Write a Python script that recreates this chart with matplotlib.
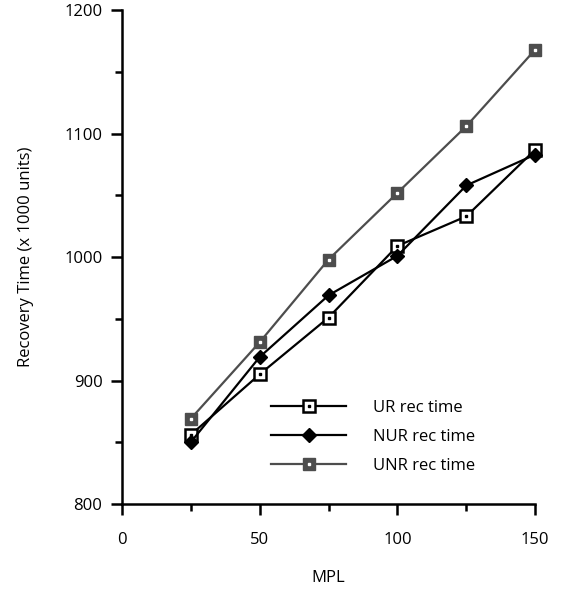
import matplotlib.pyplot as plt
from matplotlib.legend_handler import HandlerTuple

mpl = [25, 50, 75, 100, 125, 150]
ur_rec = [856, 905, 951, 1009, 1033, 1087]
nur_rec = [850, 919, 969, 1001, 1058, 1083]
unr_rec = [869, 931, 998, 1052, 1106, 1168]

plt.rcParams['font.family'] = ['Open Sans', 'DejaVu Sans']

fig = plt.figure(figsize=(5.64, 5.94), dpi=100)
ax = fig.add_axes([0.216, 0.1515, 0.733, 0.8315])

gray = '#4d4d4d'

# UR: open square with a small dot in the middle
l1, = ax.plot(mpl, ur_rec, color='black', lw=1.6, marker='s', ms=8,
              mfc='white', mec='black', mew=1.8, label='UR rec time', clip_on=False)
d1, = ax.plot(mpl, ur_rec, ls='none', marker='s', ms=1.8, mfc='black',
              mec='black', clip_on=False)

l2, = ax.plot(mpl, nur_rec, color='black', lw=1.6, marker='D', ms=7,
              mfc='black', mec='black', label='NUR rec time', clip_on=False)

l3, = ax.plot(mpl, unr_rec, color=gray, lw=1.6, marker='s', ms=8.5,
              mfc=gray, mec=gray, label='UNR rec time', clip_on=False)
d3, = ax.plot(mpl, unr_rec, ls='none', marker='s', ms=1.6, mfc='white',
              mec='white', clip_on=False)

ax.set_xlim(0, 150)
ax.set_ylim(800, 1200)
ax.set_xticks([0, 50, 100, 150])
ax.set_xticks([25, 75, 125], minor=True)
ax.set_yticks([800, 900, 1000, 1100, 1200])
ax.set_yticks([850, 950, 1050, 1150], minor=True)

for side in ['top', 'right']:
    ax.spines[side].set_visible(False)
for side in ['left', 'bottom']:
    ax.spines[side].set_linewidth(1.8)

ax.tick_params(which='major', direction='out', length=8, width=1.8,
               labelsize=12, pad=6)
ax.tick_params(which='minor', direction='out', length=5, width=1.8)
ax.tick_params(axis='x', which='major', pad=12)

ax.set_xlabel('MPL', fontsize=12, labelpad=16)
ax.set_ylabel('Recovery Time (x 1000 units)', fontsize=12, labelpad=22)

ax.legend([(l1, d1), l2, (l3, d3)],
          ['UR rec time', 'NUR rec time', 'UNR rec time'],
          handler_map={tuple: HandlerTuple(ndivide=1)},
          loc='upper left', bbox_to_anchor=(0.345, 0.225), frameon=False,
          fontsize=12, handlelength=4.5, handletextpad=1.6,
          labelspacing=0.8, borderaxespad=0)

fig.savefig('out.png', dpi=100)
